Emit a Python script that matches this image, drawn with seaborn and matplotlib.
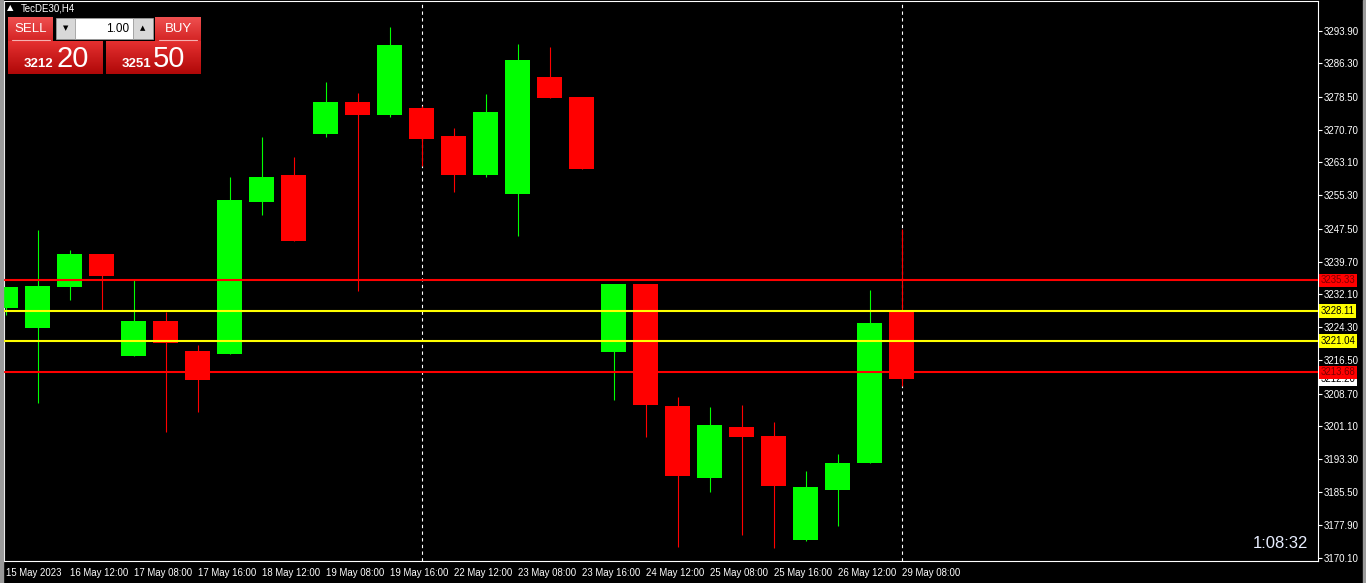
import numpy as np
import pandas as pd
import matplotlib
matplotlib.use('Agg')
import matplotlib.pyplot as plt
from matplotlib.colors import LinearSegmentedColormap
from matplotlib.patches import Rectangle
import seaborn as sns

# candle data (H4 TecDE30)
opens  = [3228.9, 3224.2, 3233.8, 3241.5, 3217.6, 3225.8, 3218.7, 3218.0, 3253.7, 3260.1,
          3269.7, 3277.2, 3274.2, 3275.8, 3269.2, 3260.1, 3255.6, 3283.1, 3278.4, 3218.5,
          3234.5, 3205.8, 3188.9, 3200.9, 3198.8, 3174.3, 3186.1, 3192.4, 3227.9]
highs  = [3233.8, 3247.2, 3242.5, 3241.5, 3235.3, 3228.0, 3220.1, 3259.6, 3269.0, 3264.3,
          3281.9, 3279.3, 3294.8, 3276.3, 3271.1, 3279.1, 3290.9, 3290.1, 3278.4, 3234.5,
          3234.5, 3207.9, 3205.6, 3206.1, 3202.1, 3190.5, 3194.5, 3233.1, 3247.4]
lows   = [3227.2, 3206.6, 3230.6, 3228.4, 3217.6, 3199.8, 3204.5, 3218.0, 3250.7, 3244.6,
          3269.0, 3232.8, 3273.7, 3262.2, 3256.1, 3259.6, 3245.8, 3278.2, 3261.5, 3207.2,
          3198.6, 3172.8, 3185.6, 3175.5, 3172.5, 3174.1, 3177.6, 3192.4, 3210.4]
closes = [3233.8, 3234.0, 3241.5, 3236.4, 3225.8, 3220.5, 3211.9, 3254.2, 3259.6, 3244.6,
          3277.2, 3274.2, 3290.6, 3268.5, 3260.1, 3274.9, 3287.1, 3278.2, 3261.5, 3234.5,
          3206.1, 3189.4, 3201.4, 3198.5, 3187.0, 3186.8, 3192.4, 3225.3, 3212.2]

price_ticks = [3293.90, 3286.30, 3278.50, 3270.70, 3263.10, 3255.30, 3247.50, 3239.70, 3232.10,
               3224.30, 3216.50, 3208.70, 3201.10, 3193.30, 3185.50, 3177.90, 3170.10]
time_labels = ['15 May 2023', '16 May 12:00', '17 May 08:00', '17 May 16:00', '18 May 12:00',
               '19 May 08:00', '19 May 16:00', '22 May 12:00', '23 May 08:00', '23 May 16:00',
               '24 May 12:00', '25 May 08:00', '25 May 16:00', '26 May 12:00', '29 May 08:00']
red_levels = [3235.33, 3213.68]
yellow_levels = [3228.11, 3221.04]
bid_price = 3212.20
separators = [13, 28]

df = pd.DataFrame({'open': opens, 'high': highs, 'low': lows, 'close': closes})
df['x'] = np.arange(len(df))
df['bull'] = df['close'] >= df['open']
df['color'] = np.where(df['bull'], '#00ff00', '#ff0000')

sns.set_theme(style='dark', rc={'figure.facecolor': 'black', 'axes.facecolor': 'black',
                                'axes.edgecolor': 'white', 'text.color': 'white',
                                'xtick.color': 'white', 'ytick.color': 'white'})
plt.rcParams['font.family'] = ['Liberation Sans', 'DejaVu Sans']

W, H = 1366, 583
fig = plt.figure(figsize=(W / 100, H / 100), dpi=100)
# plot frame in pixels: left 4, right 1318, top 1, bottom 561
ax = fig.add_axes([4 / W, (H - 561) / H, (1318 - 4) / W, 560 / H])
ax.set_facecolor('black')

# wicks and bodies
ax.vlines(df['x'], df['low'], df['high'], colors=df['color'], lw=0.8, zorder=2)
ax.bar(df['x'], (df['close'] - df['open']).abs(), bottom=df[['open', 'close']].min(axis=1),
       width=0.78, color=df['color'], linewidth=0, zorder=3)

for lv in red_levels:
    ax.axhline(lv, color='#ff0000', lw=1.5, zorder=4)
for lv in yellow_levels:
    ax.axhline(lv, color='#ffff00', lw=1.5, zorder=4)
for s in separators:
    ax.axvline(s, color='white', lw=0.8, ls=(0, (3, 3)), zorder=1)

ax.set_xlim(-1.5 / 32, (1318 - 5.5) / 32)
ax.set_ylim(3293.9 - 530 * 0.23491, 3293.9 + 30 * 0.23491)
ax.grid(False)
for sp in ax.spines.values():
    sp.set_color('white')
    sp.set_linewidth(0.8)

ax.yaxis.tick_right()
ax.set_yticks(price_ticks)
ax.set_yticklabels([f'{p:.2f}' for p in price_ticks])
ax.tick_params(axis='y', colors='white', length=3, width=0.8, pad=1, labelsize=7)
ax.set_xticks(np.arange(0, 29, 2))
ax.set_xticklabels(time_labels, ha='left')
ax.tick_params(axis='x', colors='white', length=3, width=0.8, pad=2, labelsize=6.9)

# price labels on the right scale
ytr = ax.get_yaxis_transform()
def price_box(val, fc, tc, z):
    ax.text(1.0018, val, f'{val:.2f}', transform=ytr, ha='left', va='center', fontsize=6.9,
            color=tc, zorder=z, clip_on=False,
            bbox=dict(boxstyle='square,pad=0.18', fc=fc, ec='none'))
price_box(bid_price, 'white', 'black', 5)
price_box(red_levels[0], '#ff0000', '#7a0000', 6)
price_box(red_levels[1], '#ff0000', '#7a0000', 6)
price_box(yellow_levels[0], '#ffff00', 'black', 6)
price_box(yellow_levels[1], '#ffff00', 'black', 6)

# overlay in pixel coordinates for the trade panel
ov = fig.add_axes([0, 0, 1, 1])
ov.set_xlim(0, W)
ov.set_ylim(H, 0)
ov.axis('off')

def grad(x0, y0, x1, y1, c_top, c_bot):
    cm = LinearSegmentedColormap.from_list('g', [c_top, c_bot])
    ov.imshow(np.linspace(0, 1, 50).reshape(-1, 1), cmap=cm, extent=(x0, x1, y1, y0),
              aspect='auto', origin='upper', zorder=2)

ov.add_patch(Rectangle((0, 0), 3, H, color='#9a9a9a', zorder=1))
ov.add_patch(Rectangle((1363, 0), 3, H, color='#9a9a9a', zorder=1))

ov.text(6.5, 8, '▲', fontsize=6, color='white', ha='left', va='center', family=['DejaVu Sans'])
ov.text(21, 8.5, 'TecDE30,H4', fontsize=7, color='white', ha='left', va='center')

grad(8, 17, 53, 41, '#ef5050', '#d42424')
grad(155, 17, 201, 41, '#ef5050', '#d42424')
ov.plot([12, 50], [39.5, 39.5], color='#f5b0b0', lw=0.8, zorder=3)
ov.plot([159, 197], [39.5, 39.5], color='#f5b0b0', lw=0.8, zorder=3)
ov.text(30.5, 28.5, 'SELL', fontsize=9.5, color='white', ha='center', va='center', zorder=4)
ov.text(178, 28.5, 'BUY', fontsize=9.5, color='white', ha='center', va='center', zorder=4)
ov.add_patch(Rectangle((56, 18), 19, 21, fc='#d8d8d8', ec='#a0a0a0', lw=0.5, zorder=3))
ov.add_patch(Rectangle((75, 18), 58, 21, fc='white', ec='#a0a0a0', lw=0.5, zorder=3))
ov.add_patch(Rectangle((133, 18), 20, 21, fc='#d8d8d8', ec='#a0a0a0', lw=0.5, zorder=3))
ov.text(65.5, 28.5, '▼', fontsize=5, color='black', ha='center', va='center', zorder=4,
        family=['DejaVu Sans'])
ov.text(143, 28.5, '▲', fontsize=5, color='black', ha='center', va='center', zorder=4,
        family=['DejaVu Sans'])
ov.text(129, 28.5, '1.00', fontsize=8.5, color='black', ha='right', va='center', zorder=4)

grad(8, 41, 103, 74, '#e53030', '#b00808')
grad(106, 41, 201, 74, '#e53030', '#b00808')
ov.text(24, 67, '3212', fontsize=9.5, color='white', ha='left', va='baseline',
        weight='bold', zorder=4)
ov.text(56, 67, '20', fontsize=21, color='white', ha='left', va='baseline', zorder=4)
ov.text(122, 67, '3251', fontsize=9.5, color='white', ha='left', va='baseline',
        weight='bold', zorder=4)
ov.text(153, 67, '50', fontsize=21, color='white', ha='left', va='baseline', zorder=4)

ov.text(1308, 548, '1:08:32', fontsize=12, color='#e8eeff', ha='right', va='baseline')

fig.savefig('out.png', dpi=100, facecolor='black')
